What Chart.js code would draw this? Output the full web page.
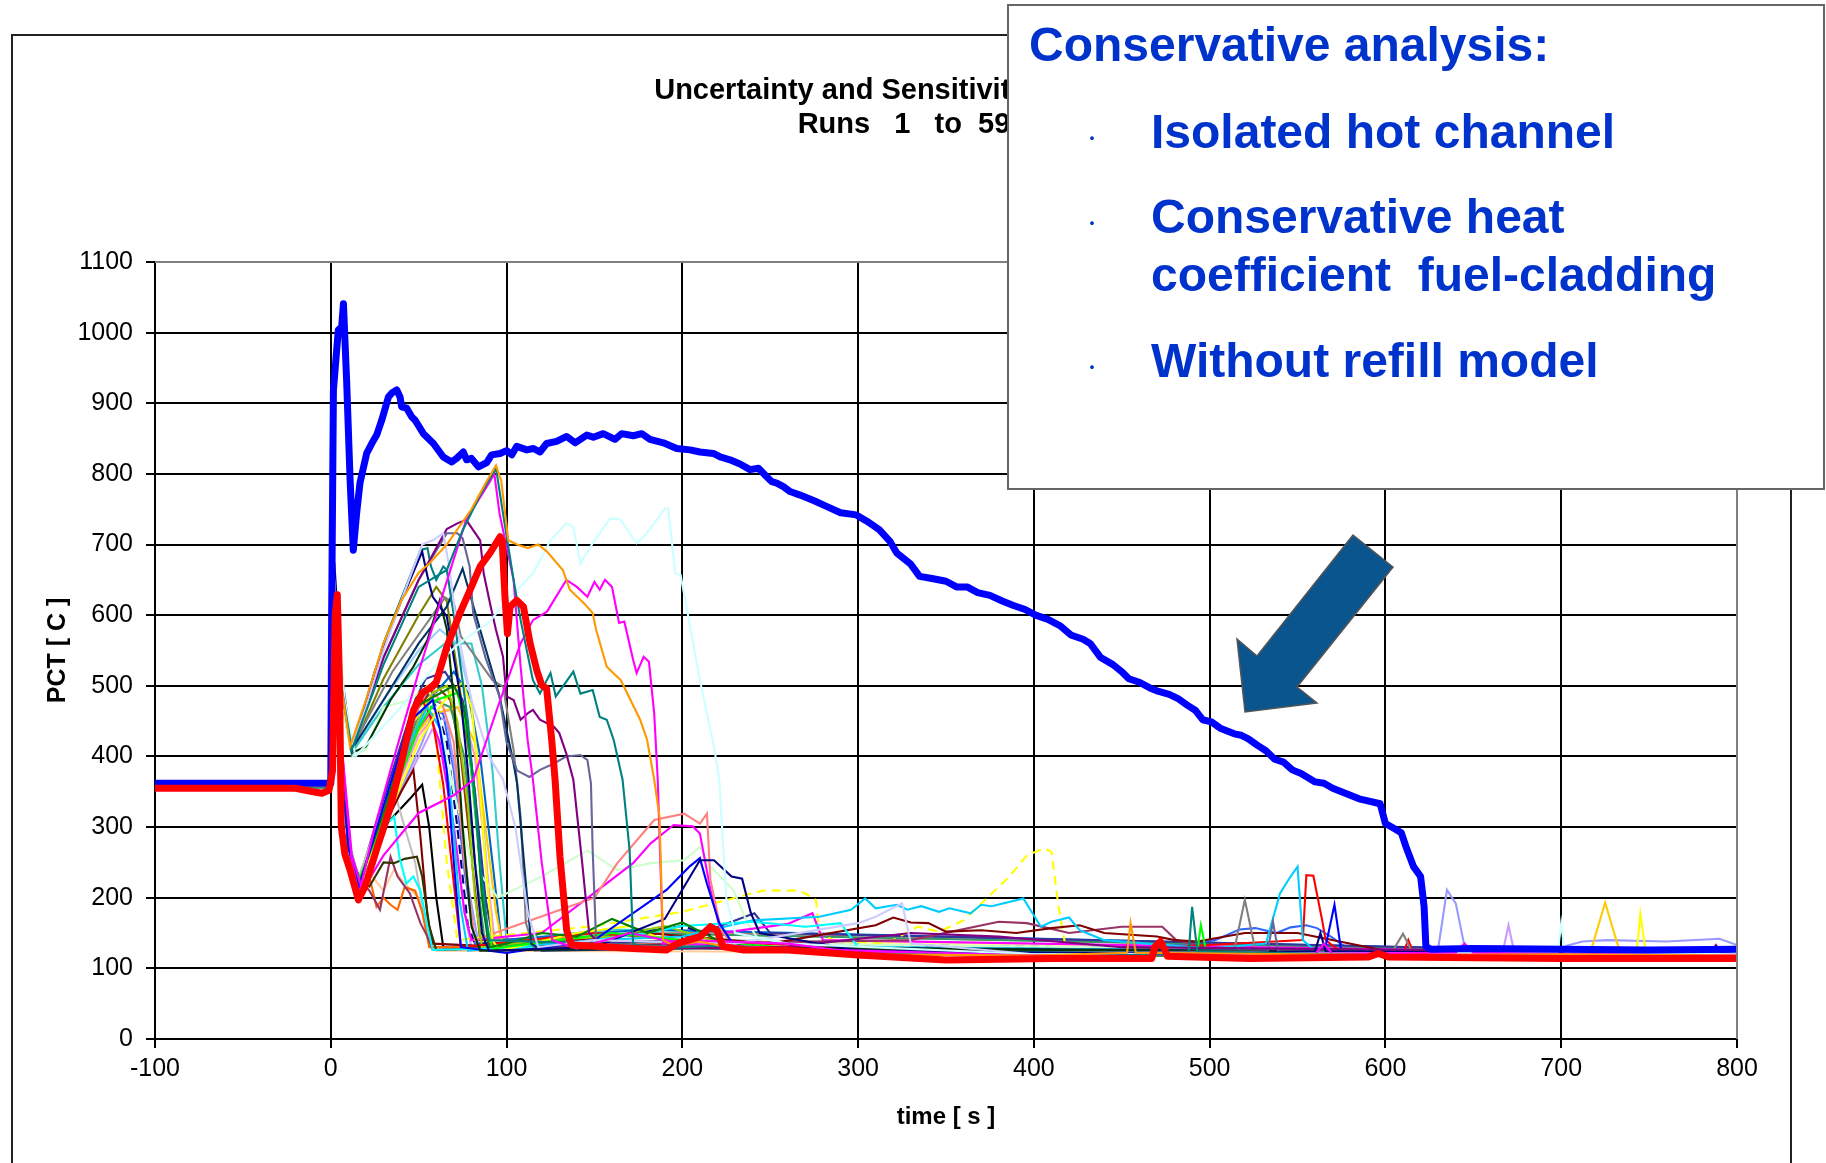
<!DOCTYPE html>
<html lang="en">
<head>
<meta charset="UTF-8">
<title>PCT uncertainty runs</title>
<script src="https://cdn.jsdelivr.net/npm/chart.js@4.4.1/dist/chart.umd.min.js"></script>
<style>
  html, body { margin: 0; padding: 0; background: #fff; }
  canvas { display: block; }
</style>
</head>
<body>
<canvas id="pctChart" width="1826" height="1163"></canvas>
<script>
// axis ticks
const timeTicks = [-100, 800, 100];   // min, max, step
const pctTicks = [0, 1100, 100];

// text
const chartTitle = ['Uncertainty and Sensitivity Analysis', 'Runs   1   to  59'];
const boxHeading = 'Conservative analysis:';
const boxItems = [['Isolated hot channel'], ['Conservative heat', 'coefficient  fuel-cladding'], ['Without refill model']];

// conservative calculation (thick blue) [time s, PCT C]
const conservativePct = [[-100,362],[-1,362],[0,362],[0.5,600],[1.5,919],[4.3,1004],[6.2,1008],[7.2,1041],[9,933],[11,791],[12.8,692],[14.7,744],[16.6,787],[20.4,829],[23.3,843],[26.1,855],[29,876],[32.8,909],[35,915],[37.5,919],[39.4,909],[40.3,895],[43.2,893],[46,881],[48,876],[52.7,857],[58.4,843],[64,824],[68.8,817],[71.6,822],[75.4,831],[77.3,820],[80,822],[84,810],[88.7,816],[91.5,827],[96.3,829],[100,833],[103,827],[105.8,839],[111.5,834],[115.3,836],[119,831],[122.8,843],[128.5,846],[134.2,853],[139,844],[145.6,855],[149.4,852],[155,857],[161.7,849],[165.5,857],[172.1,854],[176.9,857],[181.6,849],[189.2,844],[196.8,836],[204.4,834],[210,831],[217.7,829],[221.5,824],[227.1,820],[232.8,814],[238.5,806],[243.3,808],[248,796],[250.9,789],[253.7,787],[257.5,782],[261.3,775],[267,770],[275,762],[282,754],[290,745],[299,742],[305,733],[312,721],[318,705],[322,688],[330,672],[335,655],[342,652],[350,648],[356,640],[362,640],[368,632],[375,628],[382,620],[388,614],[395,608],[401,600],[408,594],[415,585],[421,572],[428,566],[432,560],[438,540],[445,530],[450,520],[454,510],[460,505],[466,497],[471,492],[477,488],[482,482],[487,473],[492,465],[496,452],[501,449],[506,440],[510,436],[514,432],[518,430],[522,425],[527,416],[532,408],[537,396],[542,392],[547,381],[552,376],[556,370],[560,364],[565,362],[570,355],[575,350],[580,345],[585,340],[590,337],[597,333],[600,305],[605,298],[609,292],[612,270],[616,244],[620,230],[622,187],[623,131],[626,127],[650,128],[700,127],[750,126],[800,127]];

// best estimate reference (thick red)
const bestEstimatePct = [[-100,355],[-20,355],[-10,350],[-5,348],[-1,352],[1,380],[2.5,600],[3.7,629],[5,500],[6,300],[8,262],[11,239],[15.7,197],[19.5,216],[26,268],[34,329],[40,390],[47,465],[52,490],[57,498],[60,505],[66,555],[73.5,603],[80,640],[85,669],[90.6,688],[96.3,711],[97.5,705],[99.1,626],[100.5,574],[102,612],[105.8,621],[109.6,612],[113.4,560],[117.2,522],[120,501],[122.8,496],[125.7,423],[127.6,367],[130.4,258],[134.2,154],[137,133],[153,131],[172,128],[191,126],[197,135],[210,145],[216,159],[219.6,154],[223,131],[235,126],[260,126],[300,119],[350,112],[410,114],[467,114],[469,131],[472,138],[474.5,126],[476,117],[523,114],[590,116],[596,121],[602,116],[700,114],[800,114]];

// uncertainty runs (thin)
const run01 = [[-100,358],[0,358],[2,640],[6,500],[11,414],[20,480],[30,560],[40,620],[50,660],[56,673],[66,700],[80,750],[89,791],[94,812],[97,790],[101,706],[106,700],[112,695],[118,700],[123,690],[132,664],[136,636],[144,617],[149,603],[151,579],[157,527],[165,508],[176,452],[180,423],[184,367],[187,315],[189,140],[195,132],[210,138],[230,128],[300,120],[400,118],[453,122],[455,164],[458,122],[600,119],[700,120],[800,118]];
const run02 = [[-100,356],[0,356],[2,640],[6,500],[12,410],[30,530],[50,640],[66,664],[75,720],[85,770],[94,808],[98,744],[104,650],[108,593],[115,508],[119,489],[125,518],[128,485],[138,520],[142,489],[149,494],[153,456],[157,452],[161,423],[166,367],[170,267],[172,135],[180,128],[220,132],[300,121],[400,117],[488,120],[490,187],[493,124],[600,118],[800,117]];
const run03 = [[-100,357],[0,357],[2,620],[6,420],[12,250],[16,205],[25,300],[34,381],[50,520],[65,640],[77,735],[91,791],[93,801],[96,744],[104,650],[108,527],[112,423],[115,367],[120,250],[126,140],[140,128],[170,150],[200,135],[260,128],[400,118],[640,122],[645,135],[650,122],[800,118]];
const run04 = [[-100,357],[0,357],[2,620],[6,420],[12,260],[18,210],[30,260],[50,320],[70,345],[81,367],[95,470],[108,560],[115,593],[123,605],[134,650],[140,640],[146,626],[150,647],[153,636],[156,650],[160,640],[164,589],[167,591],[172,537],[174,518],[178,541],[181,534],[184,461],[186,367],[189,135],[200,140],[260,135],[300,122],[400,118],[560,120],[565,135],[570,120],[800,118]];
const run05 = [[-100,358],[0,358],[2,630],[8,480],[14,400],[40,470],[60,530],[73,560],[90,590],[100,620],[115,659],[125,706],[134,730],[138,725],[142,673],[149,702],[159,737],[165,735],[170,716],[174,702],[178,711],[184,730],[190,751],[192,751],[196,659],[199,657],[203,603],[210,508],[218,414],[221,367],[225,200],[230,150],[260,135],[400,120],[698,122],[700,164],[702,122],[800,120]];
const run06 = [[-100,358],[0,358],[2,650],[6,500],[12,415],[20,470],[30,550],[40,620],[52,700],[58,706],[64,716],[67,674],[72,580],[80,480],[90,400],[98,367],[105,300],[112,180],[118,130],[150,140],[230,135],[300,164],[310,173],[325,192],[330,135],[400,120],[800,118]];
const run07 = [[-100,358],[0,358],[2,675],[6,520],[12,410],[25,520],[40,620],[52,690],[55,655],[58,626],[62,612],[66,598],[70,540],[74,480],[78,380],[82,250],[86,150],[90,125],[150,130],[190,170],[210,253],[218,253],[228,230],[234,227],[239,178],[244,150],[300,125],[500,120],[560,124],[563,150],[566,124],[800,119]];
const run08 = [[-100,358],[0,358],[2,650],[6,510],[12,410],[30,540],[50,650],[66,722],[72,730],[77,735],[85,706],[87,659],[91,612],[94,579],[98,541],[100,485],[104,480],[108,452],[112,461],[115,466],[119,452],[127,442],[130,433],[134,404],[138,367],[143,250],[147,150],[155,130],[250,128],[330,150],[380,145],[450,130],[785,122],[788,133],[791,122],[800,120]];
const run09 = [[-100,358],[0,358],[2,640],[6,500],[12,412],[30,540],[50,650],[66,716],[72,716],[75,709],[79,669],[81,603],[88,540],[96,485],[100,420],[106,380],[113,371],[119,381],[127,390],[134,400],[142,402],[146,395],[148,362],[149,267],[151,135],[200,130],[300,120],[533,124],[536,166],[539,124],[800,120]];
const run10 = [[-100,356],[0,356],[2,640],[6,500],[12,405],[30,560],[51,692],[55,695],[57,669],[60,650],[64,669],[66,664],[70,600],[78,450],[85,250],[90,140],[150,135],[250,125],[800,118]];
const run11 = [[-100,358],[0,358],[2,640],[6,500],[12,405],[20,414],[34,480],[47,527],[55,565],[62,621],[66,580],[70,480],[75,300],[80,160],[85,125],[200,130],[800,119]];
const run12 = [[-100,358],[0,358],[2,640],[6,500],[12,410],[30,480],[50,560],[66,612],[75,666],[85,579],[96,485],[104,390],[106,362],[111,220],[114,135],[120,125],[250,130],[800,120]];
const run13 = [[-100,358],[0,358],[2,640],[6,500],[12,412],[35,520],[55,590],[65,625],[70,617],[74,570],[81,546],[92,508],[98,499],[104,409],[108,315],[111,164],[116,125],[200,132],[300,120],[514,126],[520,197],[526,126],[604,124],[610,149],[615,124],[800,119]];
const run14 = [[-100,357],[0,357],[2,640],[5,420],[10,270],[16,215],[30,330],[45,450],[58,480],[62,440],[66,380],[70,250],[74,130],[100,122],[150,140],[191,211],[204,244],[210,256],[214,220],[221,164],[230,130],[400,120],[565,120],[571,190],[575,122],[800,119]];
const run15 = [[-100,357],[0,357],[2,630],[5,430],[10,275],[16,220],[30,320],[48,470],[70,500],[76,470],[82,350],[86,200],[90,130],[100,135],[120,150],[140,145],[160,170],[180,150],[200,165],[220,140],[240,128],[400,118],[800,118]];
const run16 = [[-100,357],[0,357],[2,630],[5,430],[10,275],[16,225],[30,310],[50,440],[60,480],[72,490],[78,430],[83,300],[87,180],[92,128],[130,140],[160,150],[200,140],[300,122],[493,125],[495,161],[498,125],[800,120]];
const run17 = [[-100,357],[0,357],[2,630],[5,430],[10,275],[16,222],[30,300],[50,420],[62,470],[68,490],[75,505],[80,470],[84,380],[88,250],[92,140],[96,125],[140,150],[170,160],[200,130],[300,120],[743,125],[745,177],[748,125],[800,120]];
const run18 = [[-100,357],[0,357],[2,630],[5,430],[10,280],[16,225],[22,260],[30,300],[36,315],[39,258],[43,220],[47,230],[51,210],[55,159],[58,126],[120,130],[180,150],[200,160],[240,166],[270,159],[290,164],[300,130],[800,119]];
const run19 = [[-100,357],[0,357],[2,630],[5,430],[10,275],[16,220],[30,300],[45,420],[55,470],[62,440],[68,350],[73,200],[78,125],[150,140],[200,145],[240,168],[278,173],[296,183],[304,199],[310,185],[322,190],[328,183],[336,188],[346,180],[352,185],[364,178],[370,190],[376,188],[394,199],[404,159],[410,166],[420,172],[426,154],[430,150],[440,140],[500,128],[532,135],[540,206],[546,230],[550,244],[553,140],[560,125],[800,120]];
const run20 = [[-100,357],[0,357],[2,630],[5,430],[10,275],[16,215],[30,310],[48,470],[52,480],[58,450],[64,360],[70,220],[74,130],[150,150],[200,140],[400,120],[553,140],[555,232],[559,231],[564,168],[566,140],[572,128],[610,122],[613,140],[616,122],[800,118]];
const run21 = [[-100,357],[0,357],[2,630],[5,430],[10,275],[16,220],[30,320],[50,450],[58,490],[66,500],[72,450],[78,330],[82,200],[86,130],[120,140],[160,145],[190,160],[230,130],[800,120]];
const run22 = [[-100,357],[0,357],[2,630],[5,430],[10,270],[16,230],[22,216],[30,250],[36,249],[42,255],[49,258],[52,230],[56,160],[60,126],[150,135],[240,128],[800,120]];
const run23 = [[-100,357],[0,357],[2,630],[5,430],[10,275],[16,220],[30,300],[40,350],[47,381],[51,286],[55,173],[58,135],[100,130],[180,150],[250,135],[310,161],[320,172],[330,165],[340,164],[350,152],[370,154],[390,150],[410,157],[426,161],[440,150],[470,145],[480,140],[493,138],[520,150],[550,150],[600,125],[800,120]];
const run24 = [[-100,357],[0,357],[2,630],[5,430],[10,280],[16,225],[22,210],[28,183],[34,258],[38,230],[45,206],[51,164],[55,145],[58,126],[200,135],[330,140],[380,166],[396,164],[420,150],[450,159],[473,159],[481,140],[500,128],[800,120]];
const run25 = [[-100,357],[0,357],[2,630],[5,430],[10,275],[16,215],[22,230],[26,187],[30,200],[34,190],[38,183],[42,215],[48,210],[52,180],[56,130],[140,130],[800,118]];
const run26 = [[-100,357],[0,357],[2,630],[5,430],[10,275],[16,220],[30,320],[50,470],[57,500],[64,470],[70,420],[76,250],[82,140],[150,200],[163,249],[184,310],[201,319],[210,305],[214,319],[216,225],[222,154],[230,130],[800,120]];
const run27 = [[-100,357],[0,357],[2,630],[5,430],[10,275],[16,215],[30,320],[50,440],[56,460],[62,420],[70,300],[76,180],[80,140],[120,150],[172,249],[182,277],[195,303],[206,301],[210,291],[216,211],[222,150],[260,163],[274,178],[280,140],[800,119]];
const run28 = [[-100,357],[0,357],[2,640],[6,480],[12,400],[20,410],[30,470],[45,480],[55,500],[62,450],[70,350],[80,250],[95,200],[120,230],[146,267],[163,239],[182,249],[201,253],[210,272],[216,244],[229,211],[237,164],[245,135],[800,120]];
const run29 = [[-100,357],[0,357],[2,630],[5,430],[10,275],[16,230],[30,330],[36,352],[42,300],[48,250],[53,175],[58,130],[800,120]];
const run30 = [[-100,357],[0,357],[2,630],[5,430],[10,275],[16,215],[30,330],[45,440],[55,480],[60,420],[66,250],[72,140],[150,160],[200,180],[218,192],[236,204],[246,210],[266,210],[270,206],[276,197],[278,150],[286,140],[316,135],[334,159],[346,152],[360,168],[374,201],[386,230],[396,260],[406,270],[410,265],[414,187],[418,131],[430,122],[800,120]];
const run31 = [[-100,357],[0,357],[2,630],[5,430],[10,275],[16,220],[30,330],[50,470],[55,490],[60,470],[66,420],[72,300],[78,160],[82,135],[150,140],[200,160],[230,135],[800,120]];
const run32 = [[-100,357],[0,357],[2,630],[5,430],[10,275],[16,225],[30,340],[48,480],[54,510],[65,520],[75,480],[82,350],[88,200],[93,130],[200,140],[241,178],[250,150],[800,120]];
const run33 = [[-100,357],[0,357],[2,630],[5,430],[10,275],[16,220],[30,320],[50,460],[58,480],[68,470],[76,400],[82,250],[88,130],[170,150],[800,120]];
const run34 = [[-100,357],[0,357],[2,630],[5,430],[10,275],[16,225],[30,310],[48,430],[58,460],[72,470],[82,420],[88,300],[94,180],[98,130],[200,135],[400,120],[717,126],[725,193],[733,126],[800,120]];
const run35 = [[-100,357],[0,357],[2,630],[5,430],[10,275],[16,220],[30,300],[52,420],[58,460],[66,450],[72,360],[78,220],[84,135],[200,135],[500,125],[630,128],[635,211],[640,192],[645,131],[700,130],[712,138],[726,140],[760,138],[790,142],[800,133]];
const run36 = [[-100,357],[0,357],[2,630],[5,430],[10,275],[16,220],[30,310],[50,440],[57,470],[64,460],[70,380],[76,240],[82,135],[300,125],[470,130],[503,140],[517,155],[526,157],[538,150],[546,158],[555,161],[561,157],[569,145],[580,125],[800,120]];
const run37 = [[-100,357],[0,357],[2,630],[5,430],[10,275],[16,222],[30,320],[50,450],[56,480],[70,520],[78,490],[85,400],[92,250],[97,140],[180,155],[800,119]];
const run38 = [[-100,357],[0,357],[2,630],[5,430],[10,275],[16,220],[30,310],[50,430],[60,460],[74,470],[82,400],[88,260],[93,140],[190,150],[800,120]];
const run39 = [[-100,357],[0,357],[2,630],[5,430],[10,275],[16,225],[30,300],[50,400],[58,440],[64,400],[70,300],[76,180],[80,130],[667,126],[670,161],[673,126],[800,120]];
const run40 = [[-100,357],[0,357],[2,630],[5,430],[10,280],[16,230],[22,235],[30,210],[36,240],[42,220],[50,200],[55,150],[60,125],[800,120]];
const run41 = [[-100,357],[0,357],[2,630],[5,430],[10,275],[16,220],[30,330],[50,470],[60,500],[68,480],[74,400],[80,260],[85,140],[150,145],[200,150],[800,120]];
const run42 = [[-100,357],[0,357],[2,640],[6,480],[12,405],[30,470],[50,530],[65,560],[80,560],[86,500],[92,380],[96,250],[100,140],[160,155],[800,119]];
const run43 = [[-100,357],[0,357],[2,630],[5,430],[10,275],[16,220],[30,320],[50,430],[62,470],[70,460],[76,380],[82,240],[87,135],[200,140],[800,120]];
const run44 = [[-100,357],[0,357],[2,640],[6,480],[12,405],[30,480],[50,550],[62,580],[72,560],[80,480],[86,330],[90,200],[94,130],[220,140],[800,120]];
const run45 = [[-100,357],[0,357],[2,630],[5,430],[10,275],[16,225],[30,300],[45,340],[52,360],[56,300],[60,200],[64,130],[200,135],[800,119]];
const run46 = [[-100,357],[0,357],[2,640],[6,490],[12,408],[30,510],[50,600],[60,640],[66,620],[72,520],[80,380],[86,220],[90,135],[180,150],[800,120]];

const runs = [run01, run02, run03, run04, run05, run06, run07, run08, run09, run10,
  run11, run12, run13, run14, run15, run16, run17, run18, run19, run20,
  run21, run22, run23, run24, run25, run26, run27, run28, run29, run30,
  run31, run32, run33, run34, run35, run36, run37, run38, run39, run40,
  run41, run42, run43, run44, run45, run46];

// styling
const runColors = ['#FF9900', '#008080', '#FF00FF', '#FF00FF', '#CCFFFF', '#CCCCFF', '#000080', '#800080', '#666699', '#008080',
  '#003300', '#003366', '#808080', '#0000FF', '#008000', '#00FF00', '#FFFF00', '#00FFFF', '#00CCFF', '#FF0000',
  '#99CC00', '#333300', '#800000', '#993366', '#FF6600', '#FF8080', '#FF00FF', '#CCFFCC', '#C0C0C0', '#FFFF00',
  '#000080', '#333399', '#339966', '#FFCC00', '#9999FF', '#3366FF', '#0066CC', '#FF99CC', '#CC99FF', '#FFCC99',
  '#993300', '#33CCCC', '#FFFF99', '#99CCFF', '#000000', '#808000'];
const dashedRuns = [29, 30];
const fontFamily = '"Liberation Sans", Arial, sans-serif';
const boxBlue = '#0033CC';

const datasets = [
  { label: 'Best estimate', data: bestEstimatePct, borderColor: '#FF0000', borderWidth: 7, borderJoinStyle: 'round', borderCapStyle: 'round' },
  { label: 'Conservative', data: conservativePct, borderColor: '#0000FF', borderWidth: 7, borderJoinStyle: 'round', borderCapStyle: 'round' }
];
runs.forEach(function (r, i) {
  datasets.push({
    label: 'Run ' + (i + 1),
    data: r,
    borderColor: runColors[i],
    borderWidth: 2.1,
    borderDash: dashedRuns.indexOf(i) >= 0 ? [9, 6] : []
  });
});

// frame, title, text box and arrow drawn around the chart
const decorations = {
  id: 'decorations',
  beforeDraw(chart) {
    const ctx = chart.ctx;
    ctx.save();
    ctx.fillStyle = '#fff';
    ctx.fillRect(0, 0, chart.width, chart.height);
    ctx.strokeStyle = '#222';
    ctx.lineWidth = 2;
    ctx.beginPath();
    ctx.moveTo(12, 1163);
    ctx.lineTo(12, 35);
    ctx.lineTo(1791, 35);
    ctx.lineTo(1791, 1163);
    ctx.stroke();
    ctx.restore();
  },
  afterDraw(chart) {
    const ctx = chart.ctx;
    const area = chart.chartArea;
    ctx.save();
    // grey plot border top / right
    ctx.strokeStyle = '#808080';
    ctx.lineWidth = 2;
    ctx.beginPath();
    ctx.moveTo(area.left, area.top);
    ctx.lineTo(area.right, area.top);
    ctx.lineTo(area.right, area.bottom);
    ctx.stroke();

    // chart title
    ctx.fillStyle = '#000';
    ctx.font = 'bold 29px ' + fontFamily;
    ctx.textAlign = 'center';
    ctx.textBaseline = 'alphabetic';
    ctx.fillText(chartTitle[0], 904, 99);
    ctx.fillText(chartTitle[1], 904, 133);

    // arrow
    ctx.beginPath();
    ctx.moveTo(1353, 535);
    ctx.lineTo(1393, 567);
    ctx.lineTo(1297, 687);
    ctx.lineTo(1317, 703);
    ctx.lineTo(1245, 712);
    ctx.lineTo(1237, 639);
    ctx.lineTo(1257, 656);
    ctx.closePath();
    ctx.fillStyle = '#0B558F';
    ctx.fill();
    ctx.strokeStyle = '#555';
    ctx.lineWidth = 1.5;
    ctx.stroke();

    // text box
    ctx.fillStyle = '#fff';
    ctx.fillRect(1008, 5, 816, 484);
    ctx.strokeStyle = '#666';
    ctx.lineWidth = 2;
    ctx.strokeRect(1008, 5, 816, 484);

    ctx.fillStyle = boxBlue;
    ctx.textAlign = 'left';
    ctx.font = 'bold 48px ' + fontFamily;
    ctx.fillText(boxHeading, 1029, 61);
    const baselines = [[148], [233, 291], [377]];
    boxItems.forEach(function (lines, i) {
      lines.forEach(function (t, j) {
        ctx.font = 'bold 48px ' + fontFamily;
        ctx.textAlign = 'left';
        ctx.textBaseline = 'alphabetic';
        ctx.fillText(t, 1151, baselines[i][j]);
      });
      ctx.font = 'bold 13px ' + fontFamily;
      ctx.textAlign = 'center';
      ctx.textBaseline = 'middle';
      ctx.fillText('\u2022', 1092, baselines[i][0] - 10);
    });
    ctx.restore();
  }
};

const tickFont = { family: fontFamily, size: 25 };
const plainNumber = function (v) { return String(v); };

new Chart(document.getElementById('pctChart'), {
  type: 'line',
  data: { datasets: datasets },
  options: {
    responsive: false,
    animation: false,
    layout: { padding: { left: 12, right: 89, top: 262, bottom: 0 } },
    elements: { point: { radius: 0 }, line: { tension: 0, fill: false } },
    plugins: { legend: { display: false }, tooltip: { enabled: false }, title: { display: false } },
    scales: {
      x: {
        type: 'linear',
        min: timeTicks[0],
        max: timeTicks[1],
        ticks: { stepSize: timeTicks[2], font: tickFont, color: '#000', padding: 6, maxRotation: 0, autoSkip: false, callback: plainNumber },
        grid: {
          color: function (c) { return c.tick && c.tick.value === timeTicks[1] ? '#808080' : '#000'; },
          lineWidth: 2, tickLength: 9, tickColor: '#000', tickWidth: 2
        },
        border: { color: '#000', width: 2 },
        title: { display: true, text: 'time [ s ]', color: '#000', font: { family: fontFamily, size: 24, weight: 'bold' }, padding: { top: 0, bottom: 31 } },
        afterFit: function (s) { s.height = 124; }
      },
      y: {
        type: 'linear',
        min: pctTicks[0],
        max: pctTicks[1],
        ticks: { stepSize: pctTicks[2], font: tickFont, color: '#000', padding: 13, callback: plainNumber },
        grid: {
          color: function (c) { return c.tick && c.tick.value === pctTicks[1] ? '#808080' : '#000'; },
          lineWidth: 2, tickLength: 9, tickColor: '#000', tickWidth: 2
        },
        border: { color: '#000', width: 2 },
        title: { display: true, text: 'PCT [ C ]', color: '#000', font: { family: fontFamily, size: 25, weight: 'bold' }, padding: { top: 31, bottom: 0 } },
        afterFit: function (s) { s.width = 143; }
      }
    }
  },
  plugins: [decorations]
});
</script>
</body>
</html>
